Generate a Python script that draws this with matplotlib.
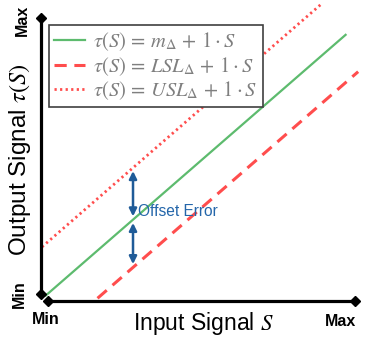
import numpy as np
import matplotlib
matplotlib.use("Agg")
import matplotlib.pyplot as plt

plt.rcParams["mathtext.fontset"] = "stix"

# line offsets (signal units) and extents along the input axis
offsets = {"mid": 0.05, "lsl": -1.7, "usl": 1.95}
x_ranges = {"mid": (0.15, 9.7), "lsl": (1.8, 10.1), "usl": (0.03, 8.9)}
arrow_x = 2.93
arrow_gap = 0.12

W, H = 372, 344
fig = plt.figure(figsize=(W / 100, H / 100), dpi=100)
ax = fig.add_axes([0, 0, 1, 1])
ax.set_xlim(-1.306, 10.541)
ax.set_ylim(-1.575, 11.026)
ax.axis("off")

green = "#5dbb6e"
red = "#ff4d4d"
blue = "#1f5b98"


def line(key):
    x = np.array(x_ranges[key])
    return x, x + offsets[key]


xg, yg = line("mid")
xl, yl = line("lsl")
xu, yu = line("usl")
ax.plot(xg, yg, color=green, lw=1.6, label=r"$\tau(S)\, =\, m_{\Delta}\, +\, 1\cdot S$")
ax.plot(xl, yl, color=red, lw=2.2, dashes=(4, 2.5), label=r"$\tau(S)\, =\, LSL_{\Delta}\, +\, 1\cdot S$")
ax.plot(xu, yu, color=red, lw=2.0, linestyle=(0, (0.8, 1.2)), label=r"$\tau(S)\, =\, USL_{\Delta}\, +\, 1\cdot S$")

# axes with diamond ends
ax.plot([0, 0], [0.26, 10.37], color="black", lw=2.3, marker="D", ms=5, solid_capstyle="butt")
ax.plot([0.22, 10.0], [0, 0], color="black", lw=2.3, marker="D", ms=5, solid_capstyle="butt")

# offset error arrows between the centre line and the limits
y_mid = arrow_x + offsets["mid"]
y_up = arrow_x + offsets["usl"]
y_lo = arrow_x + offsets["lsl"]
akw = dict(arrowstyle="<|-|>", color=blue, lw=1.8, mutation_scale=11, shrinkA=0, shrinkB=0)
ax.annotate("", xy=(arrow_x, y_up - arrow_gap), xytext=(arrow_x, y_mid + arrow_gap), arrowprops=akw)
ax.annotate("", xy=(arrow_x, y_lo + arrow_gap), xytext=(arrow_x, y_mid - arrow_gap), arrowprops=akw)
ax.text(arrow_x + 0.15, y_mid + 0.3, "Offset Error", color="#2466aa", fontsize=11.2,
        family="Liberation Sans", ha="left", va="center")

bold = dict(family="Liberation Sans", fontweight="bold", fontsize=11.5, color="black")
fig.text(22 / W, 1 - 20 / H, "Max", rotation=90, ha="center", va="center", **bold)
fig.text(19 / W, 1 - 294 / H, "Min", rotation=90, ha="center", va="center", **bold)
fig.text(46 / W, 1 - 319 / H, "Min", ha="center", va="center", **bold)
fig.text(340 / W, 1 - 322 / H, "Max", ha="center", va="center", **bold)

fig.text(203 / W, 1 - 330 / H, r"Input Signal $S$", ha="center", va="baseline",
         family="Liberation Sans", fontsize=16.5)
fig.text(26 / W, 1 - 160 / H, r"Output Signal $\tau(S)$", rotation=90, rotation_mode="anchor",
         ha="center", va="baseline", family="Liberation Sans", fontsize=17.5)

leg = ax.legend(loc="upper left", bbox_to_anchor=(49 / W, 1 - 25 / H), bbox_transform=fig.transFigure,
                fontsize=14.8, frameon=True, fancybox=False, framealpha=1, edgecolor="#404040",
                handlelength=1.5, handletextpad=0.4, borderpad=0.25, labelspacing=0.1,
                borderaxespad=0)
leg.get_frame().set_linewidth(1.2)
for t in leg.get_texts():
    t.set_color("#7f7f7f")

fig.savefig("out.png", dpi=100)
